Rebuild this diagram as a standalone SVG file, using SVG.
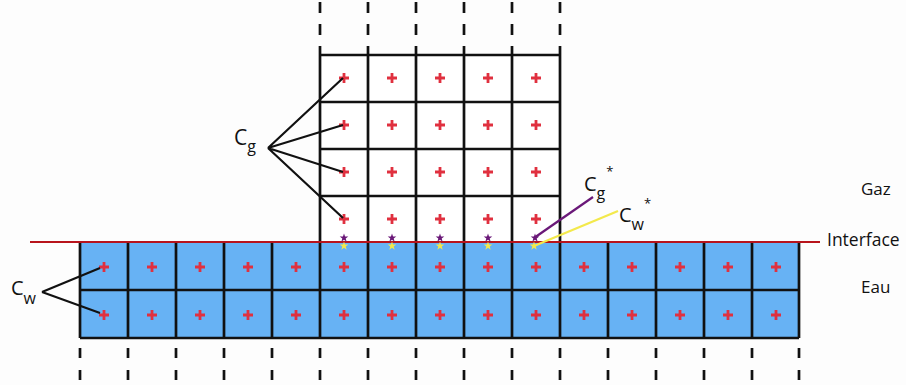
<svg xmlns="http://www.w3.org/2000/svg" xmlns:xlink="http://www.w3.org/1999/xlink" width="906" height="385" viewBox="0 0 906 385">
<defs>
<style>
.grid{stroke:#111;stroke-width:2.7;fill:none}
.dash{stroke:#111;stroke-width:2.7;fill:none}
.plus{stroke:#e0303f;stroke-width:2.8;fill:none}
.lead{stroke:#111;stroke-width:2.2;fill:none}
.t{font-family:"Open Sans","Noto Sans",sans-serif;fill:#111}
</style>
<path id="p" class="plus" d="M-5,0H5M0,-5V5"/>
<polygon id="star" points="0,-4.5 1.06,-1.46 4.28,-1.39 1.71,0.56 2.65,3.64 0,1.8 -2.65,3.64 -1.71,0.56 -4.28,-1.39 -1.06,-1.46"/>
</defs>
<rect width="906" height="385" fill="#fdfdfd"/>

<g id="dashes-top" class="dash" stroke-dasharray="11,11">
<path d="M320,2V55M368,2V55M416,2V55M464,2V55M512,2V55M560,2V55"/>
</g>
<g id="dashes-bottom" class="dash" stroke-dasharray="10,12">
<path d="M80,348V385M128,348V385M176,348V385M224,348V385M272,348V385M320,348V385M368,348V385M416,348V385M464,348V385M512,348V385M560,348V385M608,348V385M656,348V385M704,348V385M752,348V385M799,348V385"/>
</g>

<g id="gas-grid">
<rect x="320" y="55" width="240" height="187" fill="#fff"/>
<path class="grid" d="M320,55H560M320,102H560M320,149H560M320,196H560M320,55V242M368,55V242M416,55V242M464,55V242M512,55V242M560,55V242"/>
<g>
<use href="#p" x="344" y="78"/><use href="#p" x="392" y="78"/><use href="#p" x="440" y="78"/><use href="#p" x="488" y="78"/><use href="#p" x="536" y="78"/>
<use href="#p" x="344" y="125"/><use href="#p" x="392" y="125"/><use href="#p" x="440" y="125"/><use href="#p" x="488" y="125"/><use href="#p" x="536" y="125"/>
<use href="#p" x="344" y="172"/><use href="#p" x="392" y="172"/><use href="#p" x="440" y="172"/><use href="#p" x="488" y="172"/><use href="#p" x="536" y="172"/>
<use href="#p" x="344" y="219"/><use href="#p" x="392" y="219"/><use href="#p" x="440" y="219"/><use href="#p" x="488" y="219"/><use href="#p" x="536" y="219"/>
</g>
</g>

<g id="water-grid">
<rect x="80" y="242" width="719" height="96" fill="#67b2f4"/>
<path class="grid" d="M80,290H799M80,338H799M80,242V338M128,242V338M176,242V338M224,242V338M272,242V338M320,242V338M368,242V338M416,242V338M464,242V338M512,242V338M560,242V338M608,242V338M656,242V338M704,242V338M752,242V338M799,242V338"/>
<g>
<use href="#p" x="104" y="267"/><use href="#p" x="152" y="267"/><use href="#p" x="200" y="267"/><use href="#p" x="248" y="267"/><use href="#p" x="296" y="267"/><use href="#p" x="344" y="267"/><use href="#p" x="392" y="267"/><use href="#p" x="440" y="267"/><use href="#p" x="488" y="267"/><use href="#p" x="536" y="267"/><use href="#p" x="584" y="267"/><use href="#p" x="632" y="267"/><use href="#p" x="680" y="267"/><use href="#p" x="728" y="267"/><use href="#p" x="776" y="267"/>
<use href="#p" x="104" y="315"/><use href="#p" x="152" y="315"/><use href="#p" x="200" y="315"/><use href="#p" x="248" y="315"/><use href="#p" x="296" y="315"/><use href="#p" x="344" y="315"/><use href="#p" x="392" y="315"/><use href="#p" x="440" y="315"/><use href="#p" x="488" y="315"/><use href="#p" x="536" y="315"/><use href="#p" x="584" y="315"/><use href="#p" x="632" y="315"/><use href="#p" x="680" y="315"/><use href="#p" x="728" y="315"/><use href="#p" x="776" y="315"/>
</g>
</g>

<g id="interface">
<line x1="30" y1="242" x2="820" y2="242" stroke="#b8141c" stroke-width="2.2"/>
<text class="t" x="827" y="246" font-size="17.5">Interface</text>
</g>

<g id="stars">
<g fill="#6a1878">
<use href="#star" x="344" y="238"/><use href="#star" x="392" y="238"/><use href="#star" x="440" y="238"/><use href="#star" x="488" y="238"/><use href="#star" x="535" y="238"/>
</g>
<g fill="#f3e94c">
<use href="#star" x="344" y="246"/><use href="#star" x="392" y="246"/><use href="#star" x="440" y="246"/><use href="#star" x="488" y="246"/><use href="#star" x="534" y="246"/>
</g>
</g>

<g id="connectors">
<path class="lead" d="M268,148L343,78M268,148L343,125M268,148L343,172M268,148L343,218"/>
<path class="lead" d="M42,292L100,268M42,292L100,313"/>
<line x1="593" y1="197" x2="534" y2="238" stroke="#6a1878" stroke-width="2.2"/>
<line x1="618" y1="211" x2="534" y2="246" stroke="#f3e94c" stroke-width="2.2"/>
</g>

<g id="label-cg">
<text class="t" x="234" y="145" font-size="21">C<tspan font-size="16" dy="7">g</tspan></text>
</g>
<g id="label-cw">
<text class="t" x="11" y="295" font-size="20">C<tspan font-size="16" dy="9">w</tspan></text>
</g>
<g id="label-cg-star">
<text class="t" x="584" y="191" font-size="20">C<tspan font-size="16" dy="8">g</tspan><tspan font-size="13" dx="1" dy="-23">*</tspan></text>
</g>
<g id="label-cw-star">
<text class="t" x="619" y="222" font-size="20">C<tspan font-size="16" dy="8">w</tspan><tspan font-size="13" dx="0" dy="-22">*</tspan></text>
</g>
<g id="label-gaz">
<text class="t" x="861" y="195" font-size="17">Gaz</text>
</g>
<g id="label-eau">
<text class="t" x="861" y="293" font-size="17">Eau</text>
</g>
</svg>
